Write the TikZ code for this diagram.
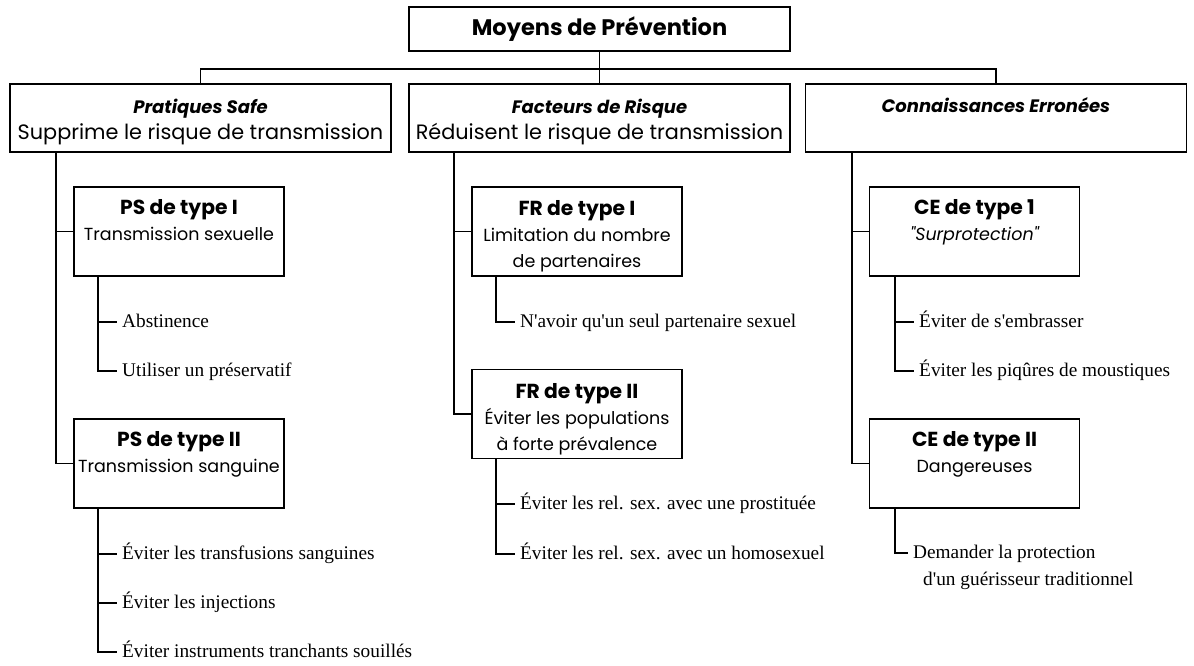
\documentclass[tikz,border=0pt]{standalone}
\usepackage{fontspec}
\setmainfont{Liberation Serif}[Ligatures=TeXOff]
\newfontfamily\gothic{Poppins}
\begin{document}
\begin{tikzpicture}[x=1pt,y=-1pt,
  frame/.style={draw, line width=1.6pt, inner sep=0pt},
  lvl/.style={frame, minimum width=381pt, minimum height=68pt},
  sub/.style={frame, minimum width=210pt, minimum height=89pt},
  lvltext/.style={inner sep=0pt, align=center, font=\gothic\fontsize{20.8}{26}\selectfont},
  subtext/.style={inner sep=0pt, align=center, font=\gothic\fontsize{17.5}{26}\selectfont},
  lvltitle/.style={font=\gothic\bfseries\itshape\fontsize{18}{26}\selectfont},
  subtitle/.style={font=\gothic\bfseries\fontsize{20.3}{26}\selectfont},
  leaf/.style={anchor=west, inner xsep=5pt, inner ysep=0pt, text height=14pt,
    text depth=4pt, font=\fontsize{19.3}{27}\selectfont},
  link/.style={line width=1.6pt}]
\useasboundingbox (0,0) rectangle (1194,666);

% top
\node[frame, minimum width=381pt, minimum height=44pt,
  font=\gothic\bfseries\fontsize{22.5}{26}\selectfont] (top) at (599.5,29) {Moyens de Prévention};

% level 1
\node[lvl] (l1) at (200.5,118) {};
\node[lvl] (l2) at (599.5,118) {};
\node[lvl] (l3) at (996,118) {};
\node[lvltext] (l1t) at ([yshift=-4pt]l1.center) {{\bfseries\itshape\fontsize{18}{26}\selectfont Pratiques Safe}\\Supprime le risque de transmission};
\node[lvltext] (l2t) at ([yshift=-4pt]l2.center) {{\bfseries\itshape\fontsize{18}{26}\selectfont Facteurs de Risque}\\Réduisent le risque de transmission};
\node[lvltext] (l3t) at ([yshift=-4pt]l3.center) {{\bfseries\itshape\fontsize{18}{26}\selectfont Connaissances Erronées}\\\strut};

\draw[link] (top.south) -- ++(0,17) -| (l1.north);
\draw[link] (top.south) -- ++(0,17) -| (l3.north);
\draw[link] (top.south) -- (l2.north);

% level 2
\node[sub] (ps1) at (179,231.5) {};
\node[sub] (ps2) at (179,463.5) {};
\node[sub] (fr1) at (577,231.5) {};
\node[sub] (fr2) at (577,414) {};
\node[sub] (ce1) at (974.5,231.5) {};
\node[sub] (ce2) at (974.5,463.5) {};
\node[subtext] (ps1t) at ([yshift=-5pt]ps1.center) {{\bfseries\fontsize{20.3}{26}\selectfont PS de type I}\\Transmission sexuelle\\\strut};
\node[subtext] (ps2t) at ([yshift=-5pt]ps2.center) {{\bfseries\fontsize{20.3}{26}\selectfont PS de type II}\\Transmission sanguine\\\strut};
\node[subtext] (fr1t) at ([yshift=-5pt]fr1.center) {{\bfseries\fontsize{20.3}{26}\selectfont FR de type I}\\Limitation du nombre\\de partenaires};
\node[subtext] (fr2t) at ([yshift=-5pt]fr2.center) {{\bfseries\fontsize{20.3}{26}\selectfont FR de type II}\\Éviter les populations\\à forte prévalence};
\node[subtext] (ce1t) at ([yshift=-5pt]ce1.center) {{\bfseries\fontsize{20.3}{26}\selectfont CE de type 1}\\{\itshape "Surprotection"}\\\strut};
\node[subtext] (ce2t) at ([yshift=-5pt]ce2.center) {{\bfseries\fontsize{20.3}{26}\selectfont CE de type II}\\Dangereuses\\\strut};

\draw[link] ([xshift=47pt]l1.south west) |- (ps1.west);
\draw[link] ([xshift=47pt]l1.south west) |- (ps2.west);
\draw[link] ([xshift=46pt]l2.south west) |- (fr1.west);
\draw[link] ([xshift=46pt]l2.south west) |- (fr2.west);
\draw[link] ([xshift=47pt]l3.south west) |- (ce1.west);
\draw[link] ([xshift=47pt]l3.south west) |- (ce2.west);

% leaves
\node[leaf] (a1) at (117,322) {Abstinence};
\node[leaf] (a2) at (117,371) {Utiliser un préservatif};
\node[leaf] (b1) at (117,554) {Éviter les transfusions sanguines};
\node[leaf] (b2) at (117,603) {Éviter les injections};
\node[leaf] (b3) at (117,652) {Éviter instruments tranchants souillés};
\node[leaf] (c1) at (515,322) {N'avoir qu'un seul partenaire sexuel};
\node[leaf] (d1) at (515,504) {Éviter les rel. sex. avec une prostituée};
\node[leaf] (d2) at (515,554) {Éviter les rel. sex. avec un homosexuel};
\node[leaf] (e1) at (914,322) {Éviter de s'embrasser};
\node[leaf] (e2) at (914,371) {Éviter les piqûres de moustiques};
\node[leaf] (f1) at (908,553) {Demander la protection};
\node[leaf] (f2) at (918,580) {d'un guérisseur traditionnel};

\draw[link] ([xshift=25pt]ps1.south west) |- (a1.west);
\draw[link] ([xshift=25pt]ps1.south west) |- (a2.west);
\draw[link] ([xshift=25pt]ps2.south west) |- (b1.west);
\draw[link] ([xshift=25pt]ps2.south west) |- (b2.west);
\draw[link] ([xshift=25pt]ps2.south west) |- (b3.west);
\draw[link] ([xshift=25pt]fr1.south west) |- (c1.west);
\draw[link] ([xshift=25pt]fr2.south west) |- (d1.west);
\draw[link] ([xshift=25pt]fr2.south west) |- (d2.west);
\draw[link] ([xshift=26pt]ce1.south west) |- (e1.west);
\draw[link] ([xshift=26pt]ce1.south west) |- (e2.west);
\draw[link] ([xshift=26pt]ce2.south west) |- (f1.west);
\end{tikzpicture}
\end{document}
